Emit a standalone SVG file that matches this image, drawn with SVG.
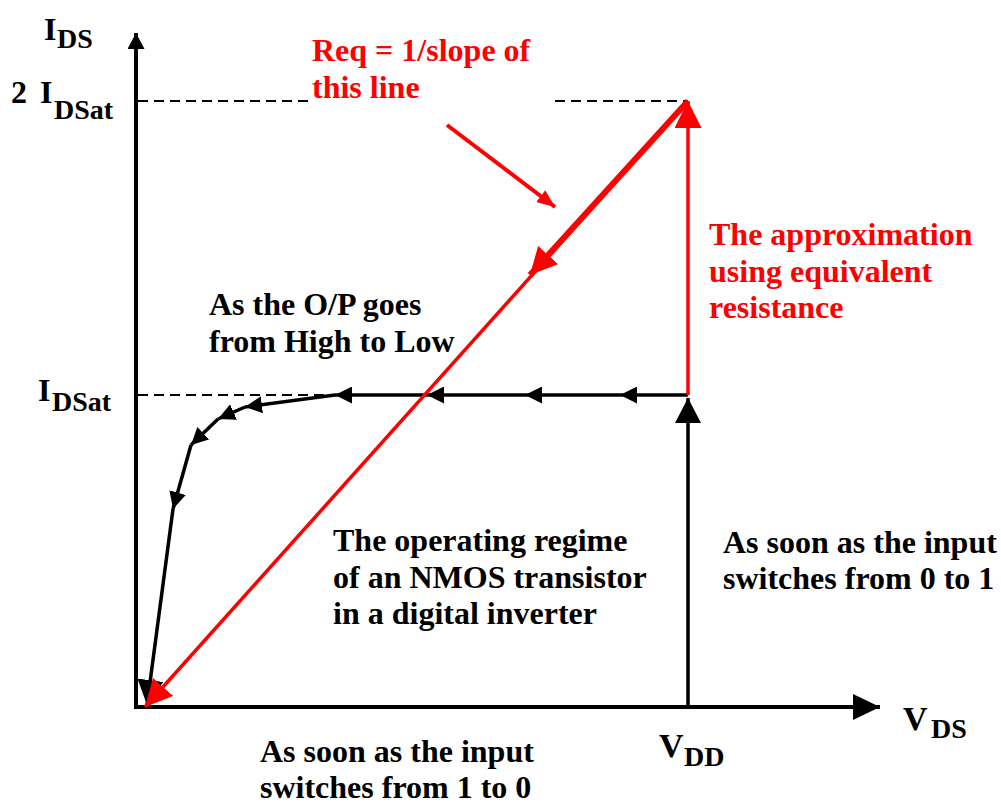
<svg xmlns="http://www.w3.org/2000/svg" width="1001" height="804" viewBox="0 0 1001 804">
<style>
.t{font-family:"Liberation Serif","Times New Roman",serif;font-weight:bold;font-size:32px;fill:#000}
.r{fill:#ff0000}
.ax{font-family:"Liberation Serif","Times New Roman",serif;font-weight:bold;font-size:32px;fill:#000}
.v{font-size:34px}
.sub{font-size:28px}
.axis{stroke:#000;stroke-width:4;fill:none}
.dash{stroke:#000;stroke-width:2;stroke-dasharray:10 6;fill:none}
.blk{stroke:#000;stroke-width:3.5;fill:none}
.red{stroke:#ff0000;fill:none}
</style>
<defs>
<marker id="axY" markerUnits="userSpaceOnUse" markerWidth="17" markerHeight="17" refX="16" refY="8.5" orient="auto" viewBox="0 0 17 17"><path d="M0,0 L16,8.5 L0,17 z" fill="#000"/></marker>
<marker id="axX" markerUnits="userSpaceOnUse" markerWidth="27" markerHeight="26" refX="27" refY="13" orient="auto" viewBox="0 0 27 26"><path d="M0,0 L27,13 L0,26 z" fill="#000"/></marker>
<marker id="bBig" markerUnits="userSpaceOnUse" markerWidth="25" markerHeight="26" refX="25" refY="13" orient="auto" viewBox="0 0 25 26"><path d="M0,0 L25,13 L0,26 z" fill="#000"/></marker>
<marker id="bSm" markerUnits="userSpaceOnUse" markerWidth="17" markerHeight="17" refX="17" refY="8.5" orient="auto" viewBox="0 0 17 17"><path d="M0,0 L17,8.5 L0,17 z" fill="#000"/></marker>
<marker id="rBig" markerUnits="userSpaceOnUse" markerWidth="27" markerHeight="27" refX="27" refY="13.5" orient="auto" viewBox="0 0 27 27"><path d="M0,0 L27,13.5 L0,27 z" fill="#ff0000"/></marker>
<marker id="rSm" markerUnits="userSpaceOnUse" markerWidth="18" markerHeight="15" refX="18" refY="7.5" orient="auto" viewBox="0 0 18 15"><path d="M0,0 L18,7.5 L0,15 z" fill="#ff0000"/></marker>
</defs>

<g id="axes">
<line class="axis" x1="136" y1="709" x2="136" y2="33" marker-end="url(#axY)"/>
<line class="axis" x1="134" y1="707" x2="880" y2="707" marker-end="url(#axX)"/>
<line class="dash" x1="138" y1="101" x2="312" y2="101"/>
<line class="dash" x1="555" y1="101" x2="688" y2="101"/>
<line class="dash" x1="138" y1="395" x2="688" y2="395"/>
</g>

<g id="axis-labels">
<text class="ax" x="44" y="40">I</text><text class="ax sub" x="57" y="48">DS</text>
<text class="ax" x="11" y="103">2</text><text class="ax" x="40" y="103">I</text><text class="ax sub" x="54" y="119">DSat</text>
<text class="ax" x="38" y="401">I</text><text class="ax sub" x="52" y="411">DSat</text>
<text class="ax v" x="659" y="757">V</text><text class="ax sub" x="684" y="766">DD</text>
<text class="ax v" x="903" y="730">V</text><text class="ax sub" x="931" y="738">DS</text>
</g>

<g id="connectors">
<line class="blk" x1="688" y1="707" x2="688" y2="398" marker-end="url(#bBig)"/>
<line class="blk" x1="688" y1="395" x2="620" y2="395" marker-end="url(#bSm)"/>
<line class="blk" x1="620" y1="395" x2="525" y2="395" marker-end="url(#bSm)"/>
<line class="blk" x1="525" y1="395" x2="427" y2="395" marker-end="url(#bSm)"/>
<line class="blk" x1="427" y1="395" x2="335" y2="395" marker-end="url(#bSm)"/>
<line class="blk" x1="335" y1="395" x2="245" y2="407" marker-end="url(#bSm)"/>
<line class="blk" x1="245" y1="407" x2="218" y2="419" marker-end="url(#bSm)"/>
<line class="blk" x1="218" y1="419" x2="191" y2="445" marker-end="url(#bSm)"/>
<line class="blk" x1="191" y1="445" x2="173" y2="509" marker-end="url(#bSm)"/>
<line class="blk" x1="173" y1="509" x2="147" y2="705" marker-end="url(#bBig)"/>

<line class="red" stroke-width="3.5" x1="688" y1="395" x2="688" y2="101" marker-end="url(#rBig)"/>
<line class="red" stroke-width="3.5" x1="688" y1="101" x2="145" y2="707" marker-end="url(#rBig)"/>
<line class="red" stroke-width="6" x1="688" y1="101" x2="530" y2="275" marker-end="url(#rBig)"/>
<line class="red" stroke-width="4" x1="447" y1="125" x2="555" y2="207" marker-end="url(#rSm)"/>
</g>

<g id="label-req">
<text class="t r" x="312" y="61">Req = 1/slope of</text>
<text class="t r" x="312" y="98">this line</text>
</g>
<g id="label-approx">
<text class="t r" x="709" y="245">The approximation</text>
<text class="t r" x="709" y="282">using equivalent</text>
<text class="t r" x="709" y="318">resistance</text>
</g>
<g id="label-op">
<text class="t" x="209" y="315">As the O/P goes</text>
<text class="t" x="209" y="352">from High to Low</text>
</g>
<g id="label-regime">
<text class="t" x="333" y="551">The operating regime</text>
<text class="t" x="333" y="588">of an NMOS transistor</text>
<text class="t" x="333" y="624">in a digital inverter</text>
</g>
<g id="label-01">
<text class="t" x="723" y="553">As soon as the input</text>
<text class="t" x="723" y="589">switches from 0 to 1</text>
</g>
<g id="label-10">
<text class="t" x="260" y="762">As soon as the input</text>
<text class="t" x="260" y="798">switches from 1 to 0</text>
</g>
</svg>
